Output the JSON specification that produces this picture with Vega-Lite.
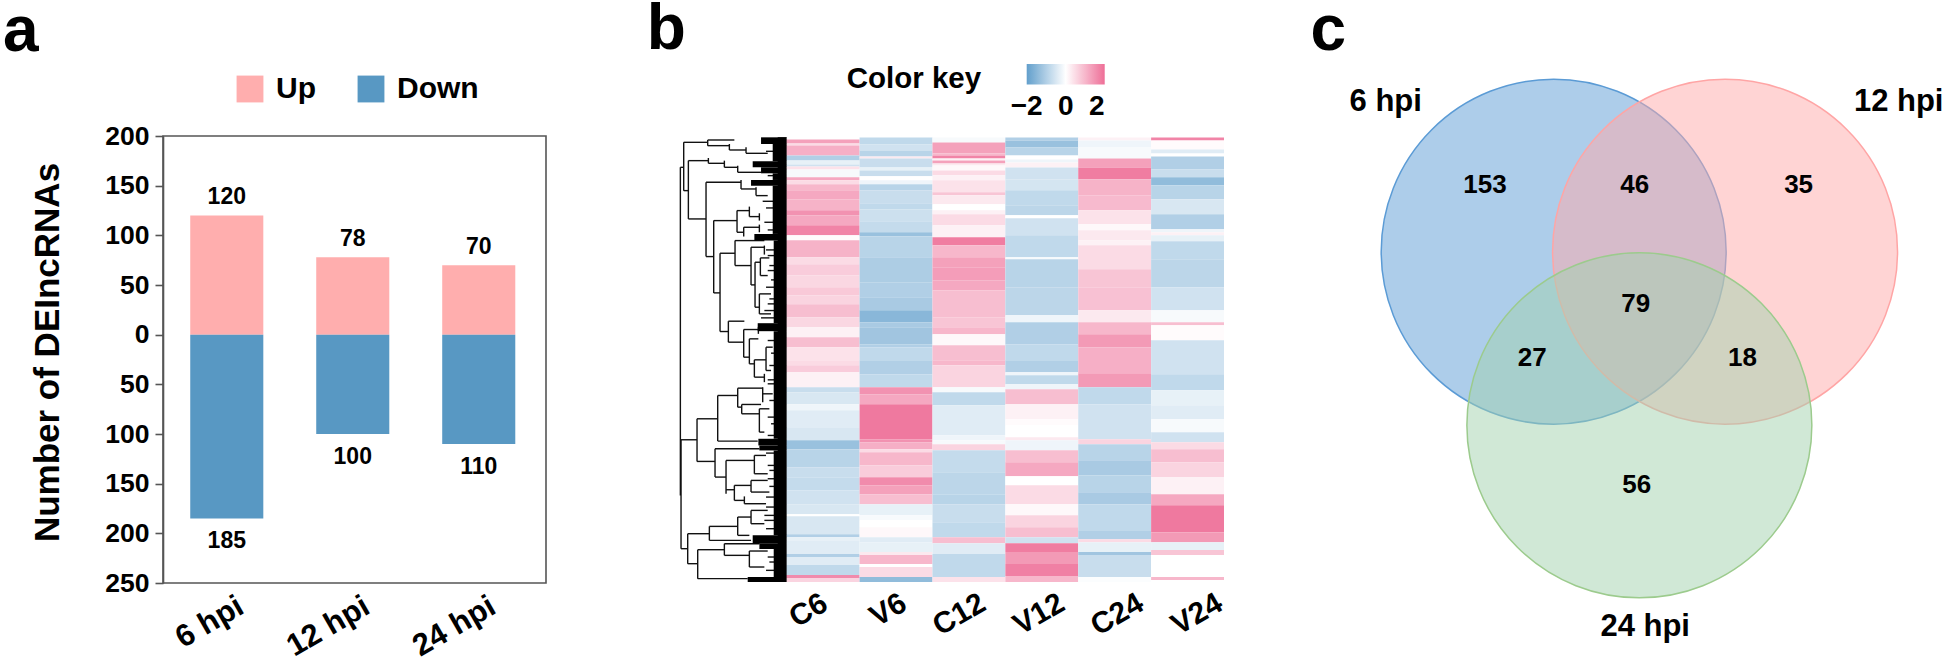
{
"$schema":"https://vega.github.io/schema/vega-lite/v6.json",
"background":"white",
"padding":{"left":2,"top":-3,"right":0,"bottom":0},
"bounds":"flush",
"spacing":131.7,
"config":{"view":{"stroke":null},"font":"Liberation Sans","text":{"font":"Liberation Sans"},"title":{"font":"Liberation Sans","fontWeight":"bold","fontSize":64,"anchor":"start","frame":"group","color":"black","baseline":"alphabetic"}},
"datasets":{
"bars":[{"t":"6 hpi","dir":"Up","n":120,"lab":120},{"t":"12 hpi","dir":"Up","n":78,"lab":78},{"t":"24 hpi","dir":"Up","n":70,"lab":70},{"t":"6 hpi","dir":"Down","n":-185,"lab":185},{"t":"12 hpi","dir":"Down","n":-100,"lab":100},{"t":"24 hpi","dir":"Down","n":-110,"lab":110}],
"tree":[
{"x1":28,"y1":110,"x2":28,"y2":1095},{"x1":28,"y1":110,"x2":38,"y2":110},{"x1":38,"y1":35,"x2":38,"y2":180},{"x1":38,"y1":35,"x2":110,"y2":35},{"x1":38,"y1":180,"x2":52,"y2":180},
{"x1":110,"y1":28,"x2":110,"y2":45},{"x1":110,"y1":28,"x2":190,"y2":28},{"x1":110,"y1":45,"x2":175,"y2":45},{"x1":175,"y1":40,"x2":175,"y2":58},{"x1":175,"y1":58,"x2":225,"y2":58},{"x1":225,"y1":50,"x2":225,"y2":68},{"x1":225,"y1":68,"x2":290,"y2":68},
{"x1":52,"y1":90,"x2":52,"y2":265},{"x1":52,"y1":90,"x2":112,"y2":90},{"x1":52,"y1":265,"x2":105,"y2":265},{"x1":112,"y1":82,"x2":112,"y2":98},{"x1":112,"y1":98,"x2":160,"y2":98},{"x1":160,"y1":90,"x2":160,"y2":110},{"x1":160,"y1":110,"x2":200,"y2":110},{"x1":200,"y1":105,"x2":200,"y2":125},{"x1":200,"y1":125,"x2":270,"y2":125},
{"x1":105,"y1":155,"x2":105,"y2":378},{"x1":105,"y1":155,"x2":210,"y2":155},{"x1":105,"y1":378,"x2":128,"y2":378},{"x1":210,"y1":148,"x2":210,"y2":175},{"x1":210,"y1":175,"x2":255,"y2":175},{"x1":255,"y1":170,"x2":255,"y2":195},{"x1":255,"y1":195,"x2":290,"y2":195},
{"x1":128,"y1":270,"x2":128,"y2":487},{"x1":128,"y1":270,"x2":198,"y2":270},{"x1":128,"y1":487,"x2":147,"y2":487},{"x1":198,"y1":240,"x2":198,"y2":305},{"x1":198,"y1":240,"x2":235,"y2":240},{"x1":198,"y1":305,"x2":218,"y2":305},{"x1":235,"y1":228,"x2":235,"y2":258},{"x1":235,"y1":258,"x2":265,"y2":258},{"x1":218,"y1":290,"x2":218,"y2":318},{"x1":218,"y1":290,"x2":265,"y2":290},{"x1":265,"y1":248,"x2":265,"y2":270},{"x1":265,"y1":282,"x2":265,"y2":305},
{"x1":147,"y1":368,"x2":147,"y2":603},{"x1":147,"y1":368,"x2":192,"y2":368},{"x1":147,"y1":603,"x2":172,"y2":603},{"x1":192,"y1":330,"x2":192,"y2":405},{"x1":192,"y1":330,"x2":280,"y2":330},{"x1":192,"y1":405,"x2":240,"y2":405},{"x1":240,"y1":350,"x2":240,"y2":463},{"x1":240,"y1":350,"x2":280,"y2":350},{"x1":240,"y1":463,"x2":252,"y2":463},{"x1":252,"y1":395,"x2":252,"y2":530},{"x1":252,"y1":395,"x2":268,"y2":395},{"x1":252,"y1":530,"x2":265,"y2":530},{"x1":268,"y1":382,"x2":268,"y2":435},{"x1":268,"y1":382,"x2":295,"y2":382},{"x1":268,"y1":435,"x2":290,"y2":435},{"x1":265,"y1":490,"x2":265,"y2":550},{"x1":265,"y1":490,"x2":300,"y2":490},{"x1":265,"y1":550,"x2":300,"y2":550},{"x1":280,"y1":345,"x2":280,"y2":372},
{"x1":172,"y1":572,"x2":172,"y2":635},{"x1":172,"y1":572,"x2":220,"y2":572},{"x1":172,"y1":635,"x2":218,"y2":635},{"x1":218,"y1":597,"x2":218,"y2":680},{"x1":218,"y1":597,"x2":262,"y2":597},{"x1":218,"y1":680,"x2":235,"y2":680},{"x1":235,"y1":625,"x2":235,"y2":700},{"x1":235,"y1":625,"x2":262,"y2":625},{"x1":235,"y1":700,"x2":250,"y2":700},{"x1":250,"y1":688,"x2":250,"y2":740},{"x1":250,"y1":688,"x2":285,"y2":688},{"x1":250,"y1":740,"x2":280,"y2":740},{"x1":285,"y1":650,"x2":285,"y2":720},{"x1":285,"y1":650,"x2":305,"y2":650},{"x1":285,"y1":720,"x2":300,"y2":720},{"x1":280,"y1":730,"x2":280,"y2":755},{"x1":262,"y1":590,"x2":262,"y2":610},
{"x1":30,"y1":928,"x2":78,"y2":928},{"x1":78,"y1":865,"x2":78,"y2":993},{"x1":78,"y1":865,"x2":140,"y2":865},{"x1":78,"y1":993,"x2":132,"y2":993},{"x1":140,"y1":795,"x2":140,"y2":932},{"x1":140,"y1":795,"x2":200,"y2":795},{"x1":140,"y1":932,"x2":260,"y2":932},{"x1":200,"y1":773,"x2":200,"y2":830},{"x1":200,"y1":773,"x2":275,"y2":773},{"x1":200,"y1":830,"x2":212,"y2":830},{"x1":212,"y1":822,"x2":212,"y2":850},{"x1":212,"y1":822,"x2":270,"y2":822},{"x1":212,"y1":850,"x2":265,"y2":850},{"x1":265,"y1":835,"x2":265,"y2":905},{"x1":265,"y1":835,"x2":295,"y2":835},{"x1":265,"y1":905,"x2":280,"y2":905},{"x1":275,"y1":770,"x2":275,"y2":815},{"x1":275,"y1":790,"x2":305,"y2":790},
{"x1":132,"y1":955,"x2":132,"y2":1040},{"x1":132,"y1":955,"x2":265,"y2":955},{"x1":132,"y1":1040,"x2":165,"y2":1040},{"x1":165,"y1":990,"x2":165,"y2":1090},{"x1":165,"y1":990,"x2":250,"y2":990},{"x1":165,"y1":1078,"x2":190,"y2":1078},{"x1":190,"y1":1065,"x2":190,"y2":1110},{"x1":190,"y1":1065,"x2":240,"y2":1065},{"x1":190,"y1":1110,"x2":220,"y2":1110},{"x1":250,"y1":975,"x2":250,"y2":1030},{"x1":250,"y1":975,"x2":285,"y2":975},{"x1":250,"y1":1030,"x2":290,"y2":1030},{"x1":240,"y1":1050,"x2":240,"y2":1085},{"x1":240,"y1":1050,"x2":290,"y2":1050},{"x1":240,"y1":1085,"x2":295,"y2":1085},{"x1":220,"y1":1098,"x2":220,"y2":1120},{"x1":220,"y1":1120,"x2":285,"y2":1120},
{"x1":30,"y1":928,"x2":30,"y2":1255},{"x1":30,"y1":1255,"x2":50,"y2":1255},{"x1":50,"y1":1210,"x2":50,"y2":1300},{"x1":50,"y1":1210,"x2":115,"y2":1210},{"x1":50,"y1":1300,"x2":80,"y2":1300},{"x1":115,"y1":1188,"x2":115,"y2":1230},{"x1":115,"y1":1188,"x2":200,"y2":1188},{"x1":115,"y1":1230,"x2":240,"y2":1230},{"x1":200,"y1":1160,"x2":200,"y2":1215},{"x1":200,"y1":1160,"x2":240,"y2":1160},{"x1":200,"y1":1215,"x2":235,"y2":1215},{"x1":240,"y1":1140,"x2":240,"y2":1180},{"x1":240,"y1":1140,"x2":290,"y2":1140},{"x1":240,"y1":1180,"x2":280,"y2":1180},{"x1":80,"y1":1258,"x2":80,"y2":1345},{"x1":80,"y1":1258,"x2":160,"y2":1258},{"x1":80,"y1":1345,"x2":230,"y2":1345},{"x1":160,"y1":1240,"x2":160,"y2":1275},{"x1":160,"y1":1240,"x2":265,"y2":1240},{"x1":160,"y1":1275,"x2":235,"y2":1275},{"x1":235,"y1":1262,"x2":235,"y2":1310},{"x1":235,"y1":1262,"x2":290,"y2":1262},{"x1":235,"y1":1310,"x2":280,"y2":1310},
{"x1":285,"y1":62,"x2":345,"y2":62},{"x1":290,"y1":135,"x2":345,"y2":135},{"x1":275,"y1":212,"x2":345,"y2":212},{"x1":285,"y1":232,"x2":345,"y2":232},{"x1":280,"y1":275,"x2":345,"y2":275},{"x1":290,"y1":298,"x2":345,"y2":298},{"x1":285,"y1":358,"x2":345,"y2":358},{"x1":290,"y1":375,"x2":345,"y2":375},{"x1":295,"y1":405,"x2":345,"y2":405},{"x1":290,"y1":420,"x2":345,"y2":420},{"x1":300,"y1":448,"x2":345,"y2":448},{"x1":285,"y1":470,"x2":345,"y2":470},{"x1":295,"y1":505,"x2":345,"y2":505},{"x1":290,"y1":520,"x2":345,"y2":520},{"x1":280,"y1":540,"x2":345,"y2":540},{"x1":270,"y1":562,"x2":345,"y2":562},{"x1":290,"y1":630,"x2":345,"y2":630},{"x1":300,"y1":668,"x2":345,"y2":668},{"x1":295,"y1":705,"x2":345,"y2":705},{"x1":290,"y1":748,"x2":345,"y2":748},{"x1":290,"y1":760,"x2":345,"y2":760},{"x1":295,"y1":810,"x2":345,"y2":810},{"x1":290,"y1":860,"x2":345,"y2":860},{"x1":300,"y1":880,"x2":345,"y2":880},{"x1":290,"y1":915,"x2":345,"y2":915},{"x1":285,"y1":968,"x2":345,"y2":968},{"x1":290,"y1":1005,"x2":345,"y2":1005},{"x1":295,"y1":1020,"x2":345,"y2":1020},{"x1":290,"y1":1045,"x2":345,"y2":1045},{"x1":295,"y1":1068,"x2":345,"y2":1068},{"x1":285,"y1":1100,"x2":345,"y2":1100},{"x1":285,"y1":1130,"x2":345,"y2":1130},{"x1":280,"y1":1155,"x2":345,"y2":1155},{"x1":280,"y1":1170,"x2":345,"y2":1170},{"x1":285,"y1":1195,"x2":345,"y2":1195},{"x1":290,"y1":1280,"x2":345,"y2":1280},{"x1":295,"y1":1295,"x2":345,"y2":1295},{"x1":285,"y1":1320,"x2":345,"y2":1320}
],
"blocks":[
{"x1":320,"y1":20,"x2":347,"y2":1355},{"x1":270,"y1":20,"x2":347,"y2":40},{"x1":245,"y1":92,"x2":347,"y2":110},{"x1":270,"y1":110,"x2":347,"y2":128},{"x1":240,"y1":148,"x2":347,"y2":165},{"x1":250,"y1":310,"x2":347,"y2":330},{"x1":260,"y1":578,"x2":347,"y2":602},{"x1":262,"y1":925,"x2":347,"y2":945},{"x1":265,"y1":945,"x2":347,"y2":960},{"x1":245,"y1":1215,"x2":347,"y2":1240},{"x1":265,"y1":1240,"x2":347,"y2":1256},{"x1":230,"y1":1340,"x2":347,"y2":1355},{"x1":305,"y1":40,"x2":347,"y2":92},{"x1":305,"y1":128,"x2":347,"y2":148},{"x1":305,"y1":165,"x2":347,"y2":310},{"x1":308,"y1":330,"x2":347,"y2":578},{"x1":308,"y1":602,"x2":347,"y2":925},{"x1":308,"y1":960,"x2":347,"y2":1215},{"x1":308,"y1":1256,"x2":347,"y2":1340}
],
"heat":[
{"s":"C6","a":0,"b":2,"v":0},{"s":"C6","a":2,"b":6,"v":1.3},{"s":"C6","a":6,"b":8,"v":0.5},{"s":"C6","a":8,"b":18,"v":1.1},{"s":"C6","a":18,"b":23,"v":-1},{"s":"C6","a":23,"b":27,"v":-0.3},{"s":"C6","a":27,"b":29,"v":-0.6},{"s":"C6","a":29,"b":32,"v":0.4},{"s":"C6","a":32,"b":40,"v":-0.1},{"s":"C6","a":40,"b":43,"v":1.2},{"s":"C6","a":43,"b":47,"v":0.5},{"s":"C6","a":47,"b":53,"v":1},{"s":"C6","a":53,"b":62,"v":1.2},{"s":"C6","a":62,"b":73,"v":1.05},{"s":"C6","a":73,"b":78,"v":1.5},{"s":"C6","a":78,"b":88,"v":1.2},{"s":"C6","a":88,"b":98,"v":1.7},{"s":"C6","a":98,"b":103,"v":0.05},{"s":"C6","a":103,"b":120,"v":1.05},{"s":"C6","a":120,"b":127,"v":0.5},{"s":"C6","a":127,"b":138,"v":0.7},{"s":"C6","a":138,"b":150,"v":0.55},{"s":"C6","a":150,"b":158,"v":0.75},{"s":"C6","a":158,"b":167,"v":0.6},{"s":"C6","a":167,"b":180,"v":0.9},{"s":"C6","a":180,"b":190,"v":0.55},{"s":"C6","a":190,"b":200,"v":0.2},{"s":"C6","a":200,"b":210,"v":0.9},{"s":"C6","a":210,"b":223,"v":0.4},{"s":"C6","a":223,"b":228,"v":0.5},{"s":"C6","a":228,"b":235,"v":0.7},{"s":"C6","a":235,"b":250,"v":0.2},{"s":"C6","a":250,"b":255,"v":-0.7},{"s":"C6","a":255,"b":267,"v":-0.5},{"s":"C6","a":267,"b":273,"v":-0.2},{"s":"C6","a":273,"b":290,"v":-0.4},{"s":"C6","a":290,"b":303,"v":-0.5},{"s":"C6","a":303,"b":312,"v":-1.3},{"s":"C6","a":312,"b":330,"v":-0.9},{"s":"C6","a":330,"b":340,"v":-0.7},{"s":"C6","a":340,"b":353,"v":-0.75},{"s":"C6","a":353,"b":367,"v":-0.6},{"s":"C6","a":367,"b":377,"v":-0.5},{"s":"C6","a":377,"b":379,"v":0},{"s":"C6","a":379,"b":397,"v":-0.5},{"s":"C6","a":397,"b":400,"v":-1},{"s":"C6","a":400,"b":403,"v":-0.3},{"s":"C6","a":403,"b":417,"v":-0.4},{"s":"C6","a":417,"b":420,"v":-1},{"s":"C6","a":420,"b":428,"v":-0.4},{"s":"C6","a":428,"b":438,"v":-0.8},{"s":"C6","a":438,"b":441,"v":1.6},{"s":"C6","a":441,"b":445,"v":0.6},
{"s":"V6","a":0,"b":7,"v":-0.8},{"s":"V6","a":7,"b":13,"v":-0.6},{"s":"V6","a":13,"b":19,"v":-0.9},{"s":"V6","a":19,"b":21,"v":0.3},{"s":"V6","a":21,"b":30,"v":-0.7},{"s":"V6","a":30,"b":33,"v":-0.3},{"s":"V6","a":33,"b":39,"v":-0.7},{"s":"V6","a":39,"b":43,"v":0},{"s":"V6","a":43,"b":47,"v":-0.2},{"s":"V6","a":47,"b":53,"v":-0.9},{"s":"V6","a":53,"b":66,"v":-0.7},{"s":"V6","a":66,"b":72,"v":-0.8},{"s":"V6","a":72,"b":84,"v":-0.65},{"s":"V6","a":84,"b":95,"v":-0.75},{"s":"V6","a":95,"b":99,"v":-1.3},{"s":"V6","a":99,"b":120,"v":-0.9},{"s":"V6","a":120,"b":145,"v":-1.05},{"s":"V6","a":145,"b":160,"v":-1},{"s":"V6","a":160,"b":173,"v":-1.1},{"s":"V6","a":173,"b":185,"v":-1.5},{"s":"V6","a":185,"b":190,"v":-1.1},{"s":"V6","a":190,"b":207,"v":-1.2},{"s":"V6","a":207,"b":210,"v":-1},{"s":"V6","a":210,"b":223,"v":-0.8},{"s":"V6","a":223,"b":237,"v":-1},{"s":"V6","a":237,"b":250,"v":-0.8},{"s":"V6","a":250,"b":257,"v":1.5},{"s":"V6","a":257,"b":267,"v":1.2},{"s":"V6","a":267,"b":302,"v":1.85},{"s":"V6","a":302,"b":305,"v":1.5},{"s":"V6","a":305,"b":312,"v":1.1},{"s":"V6","a":312,"b":315,"v":0.5},{"s":"V6","a":315,"b":328,"v":1},{"s":"V6","a":328,"b":340,"v":0.7},{"s":"V6","a":340,"b":348,"v":1.6},{"s":"V6","a":348,"b":357,"v":1.3},{"s":"V6","a":357,"b":367,"v":0.9},{"s":"V6","a":367,"b":378,"v":-0.3},{"s":"V6","a":378,"b":383,"v":-0.1},{"s":"V6","a":383,"b":390,"v":0},{"s":"V6","a":390,"b":400,"v":0.1},{"s":"V6","a":400,"b":405,"v":-0.4},{"s":"V6","a":405,"b":415,"v":-0.3},{"s":"V6","a":415,"b":418,"v":0.3},{"s":"V6","a":418,"b":427,"v":1},{"s":"V6","a":427,"b":430,"v":0},{"s":"V6","a":430,"b":440,"v":0.5},{"s":"V6","a":440,"b":445,"v":-1.4},
{"s":"C12","a":0,"b":5,"v":-0.1},{"s":"C12","a":5,"b":16,"v":1.3},{"s":"C12","a":16,"b":18,"v":1},{"s":"C12","a":18,"b":21,"v":1.7},{"s":"C12","a":21,"b":23,"v":0.2},{"s":"C12","a":23,"b":26,"v":1.3},{"s":"C12","a":26,"b":28,"v":0.3},{"s":"C12","a":28,"b":33,"v":0.1},{"s":"C12","a":33,"b":38,"v":0.5},{"s":"C12","a":38,"b":43,"v":0.2},{"s":"C12","a":43,"b":55,"v":0.4},{"s":"C12","a":55,"b":58,"v":0.8},{"s":"C12","a":58,"b":67,"v":0.3},{"s":"C12","a":67,"b":73,"v":0},{"s":"C12","a":73,"b":77,"v":0.2},{"s":"C12","a":77,"b":88,"v":0.5},{"s":"C12","a":88,"b":100,"v":0.2},{"s":"C12","a":100,"b":108,"v":1.8},{"s":"C12","a":108,"b":120,"v":1},{"s":"C12","a":120,"b":130,"v":1.3},{"s":"C12","a":130,"b":143,"v":1.35},{"s":"C12","a":143,"b":153,"v":1.2},{"s":"C12","a":153,"b":180,"v":0.9},{"s":"C12","a":180,"b":190,"v":0.8},{"s":"C12","a":190,"b":197,"v":1},{"s":"C12","a":197,"b":208,"v":0.1},{"s":"C12","a":208,"b":223,"v":0.9},{"s":"C12","a":223,"b":228,"v":1},{"s":"C12","a":228,"b":250,"v":0.6},{"s":"C12","a":250,"b":255,"v":-0.1},{"s":"C12","a":255,"b":268,"v":-0.8},{"s":"C12","a":268,"b":298,"v":-0.4},{"s":"C12","a":298,"b":303,"v":-0.2},{"s":"C12","a":303,"b":307,"v":-0.1},{"s":"C12","a":307,"b":313,"v":0.6},{"s":"C12","a":313,"b":335,"v":-0.75},{"s":"C12","a":335,"b":357,"v":-0.85},{"s":"C12","a":357,"b":367,"v":-0.9},{"s":"C12","a":367,"b":385,"v":-0.7},{"s":"C12","a":385,"b":400,"v":-0.8},{"s":"C12","a":400,"b":406,"v":0.9},{"s":"C12","a":406,"b":417,"v":-0.4},{"s":"C12","a":417,"b":440,"v":-0.8},{"s":"C12","a":440,"b":445,"v":0.4},
{"s":"V12","a":0,"b":3,"v":-1},{"s":"V12","a":3,"b":10,"v":-1.3},{"s":"V12","a":10,"b":18,"v":-0.9},{"s":"V12","a":18,"b":22,"v":0},{"s":"V12","a":22,"b":25,"v":-0.2},{"s":"V12","a":25,"b":30,"v":0.2},{"s":"V12","a":30,"b":42,"v":-0.6},{"s":"V12","a":42,"b":53,"v":-0.55},{"s":"V12","a":53,"b":68,"v":-0.8},{"s":"V12","a":68,"b":78,"v":-0.85},{"s":"V12","a":78,"b":81,"v":0},{"s":"V12","a":81,"b":98,"v":-0.6},{"s":"V12","a":98,"b":120,"v":-0.8},{"s":"V12","a":120,"b":122,"v":-0.1},{"s":"V12","a":122,"b":150,"v":-0.9},{"s":"V12","a":150,"b":178,"v":-0.85},{"s":"V12","a":178,"b":185,"v":-0.2},{"s":"V12","a":185,"b":207,"v":-1},{"s":"V12","a":207,"b":223,"v":-0.8},{"s":"V12","a":223,"b":235,"v":-1},{"s":"V12","a":235,"b":238,"v":-0.2},{"s":"V12","a":238,"b":247,"v":-0.8},{"s":"V12","a":247,"b":252,"v":-0.2},{"s":"V12","a":252,"b":267,"v":0.9},{"s":"V12","a":267,"b":282,"v":0.2},{"s":"V12","a":282,"b":288,"v":0.05},{"s":"V12","a":288,"b":300,"v":0},{"s":"V12","a":300,"b":303,"v":0.3},{"s":"V12","a":303,"b":313,"v":-0.2},{"s":"V12","a":313,"b":325,"v":0.9},{"s":"V12","a":325,"b":339,"v":1.2},{"s":"V12","a":339,"b":348,"v":0},{"s":"V12","a":348,"b":367,"v":0.5},{"s":"V12","a":367,"b":378,"v":0.1},{"s":"V12","a":378,"b":390,"v":0.6},{"s":"V12","a":390,"b":400,"v":0.9},{"s":"V12","a":400,"b":406,"v":-0.6},{"s":"V12","a":406,"b":415,"v":1.8},{"s":"V12","a":415,"b":427,"v":1.4},{"s":"V12","a":427,"b":439,"v":1.75},{"s":"V12","a":439,"b":445,"v":1},
{"s":"C24","a":0,"b":3,"v":0.2},{"s":"C24","a":3,"b":10,"v":-0.2},{"s":"C24","a":10,"b":21,"v":-0.1},{"s":"C24","a":21,"b":30,"v":1.3},{"s":"C24","a":30,"b":42,"v":1.8},{"s":"C24","a":42,"b":58,"v":1.05},{"s":"C24","a":58,"b":73,"v":0.95},{"s":"C24","a":73,"b":87,"v":0.4},{"s":"C24","a":87,"b":93,"v":0.1},{"s":"C24","a":93,"b":103,"v":0.3},{"s":"C24","a":103,"b":108,"v":0.2},{"s":"C24","a":108,"b":132,"v":0.5},{"s":"C24","a":132,"b":150,"v":0.8},{"s":"C24","a":150,"b":173,"v":0.85},{"s":"C24","a":173,"b":185,"v":0.3},{"s":"C24","a":185,"b":197,"v":1},{"s":"C24","a":197,"b":210,"v":1.4},{"s":"C24","a":210,"b":236,"v":1.1},{"s":"C24","a":236,"b":250,"v":1.4},{"s":"C24","a":250,"b":267,"v":-0.8},{"s":"C24","a":267,"b":302,"v":-0.6},{"s":"C24","a":302,"b":307,"v":0.6},{"s":"C24","a":307,"b":323,"v":-0.9},{"s":"C24","a":323,"b":338,"v":-1.1},{"s":"C24","a":338,"b":355,"v":-0.9},{"s":"C24","a":355,"b":367,"v":-1.1},{"s":"C24","a":367,"b":393,"v":-0.8},{"s":"C24","a":393,"b":402,"v":-1},{"s":"C24","a":402,"b":405,"v":0.5},{"s":"C24","a":405,"b":415,"v":-0.3},{"s":"C24","a":415,"b":418,"v":-1.2},{"s":"C24","a":418,"b":440,"v":-0.7},{"s":"C24","a":440,"b":445,"v":-0.05},
{"s":"V24","a":0,"b":3,"v":1.7},{"s":"V24","a":3,"b":12,"v":0.05},{"s":"V24","a":12,"b":16,"v":-0.4},{"s":"V24","a":16,"b":19,"v":0},{"s":"V24","a":19,"b":32,"v":-1},{"s":"V24","a":32,"b":40,"v":-0.7},{"s":"V24","a":40,"b":48,"v":-1.4},{"s":"V24","a":48,"b":62,"v":-0.9},{"s":"V24","a":62,"b":77,"v":-0.5},{"s":"V24","a":77,"b":92,"v":-1},{"s":"V24","a":92,"b":95,"v":-0.2},{"s":"V24","a":95,"b":98,"v":0.2},{"s":"V24","a":98,"b":104,"v":-0.3},{"s":"V24","a":104,"b":122,"v":-0.8},{"s":"V24","a":122,"b":150,"v":-0.85},{"s":"V24","a":150,"b":173,"v":-0.6},{"s":"V24","a":173,"b":185,"v":-0.1},{"s":"V24","a":185,"b":188,"v":0.9},{"s":"V24","a":188,"b":203,"v":0.05},{"s":"V24","a":203,"b":237,"v":-0.6},{"s":"V24","a":237,"b":253,"v":-0.8},{"s":"V24","a":253,"b":268,"v":-0.3},{"s":"V24","a":268,"b":282,"v":-0.4},{"s":"V24","a":282,"b":295,"v":-0.1},{"s":"V24","a":295,"b":305,"v":-0.6},{"s":"V24","a":305,"b":312,"v":0.5},{"s":"V24","a":312,"b":325,"v":0.9},{"s":"V24","a":325,"b":340,"v":0.6},{"s":"V24","a":340,"b":357,"v":0.2},{"s":"V24","a":357,"b":368,"v":1.2},{"s":"V24","a":368,"b":395,"v":1.85},{"s":"V24","a":395,"b":405,"v":1.4},{"s":"V24","a":405,"b":413,"v":-0.3},{"s":"V24","a":413,"b":418,"v":0.8},{"s":"V24","a":418,"b":440,"v":0},{"s":"V24","a":440,"b":443,"v":1},{"s":"V24","a":443,"b":445,"v":0}
],
"samples":[{"s":"C6"},{"s":"V6"},{"s":"C12"},{"s":"V12"},{"s":"C24"},{"s":"V24"}],
"sets":[{"set":"6 hpi","cx":-50,"cy":0},{"set":"12 hpi","cx":50,"cy":0},{"set":"24 hpi","cx":0,"cy":-101.3}],
"vennNums":[{"lab":"153","cx":-90.1,"cy":39.1},{"lab":"46","cx":-2.7,"cy":39.1},{"lab":"35","cx":92.9,"cy":39.1},{"lab":"79","cx":-2.1,"cy":-30.7},{"lab":"27","cx":-62.5,"cy":-62},{"lab":"18","cx":60.1,"cy":-62},{"lab":"56","cx":-1.6,"cy":-135.9}],
"vennNames":[{"lab":"6 hpi","cx":-148,"cy":87.2},{"lab":"12 hpi","cx":151.3,"cy":87.2},{"lab":"24 hpi","cx":3.4,"cy":-219.1}]
},
"hconcat":[
{"width":383,"height":447,"view":{"stroke":"#555555","strokeWidth":1.6},
 "title":{"text":"a","dx":-160,"offset":10},
 "data":{"name":"bars"},
 "encoding":{"x":{"field":"t","type":"nominal","sort":["6 hpi","12 hpi","24 hpi"],"scale":{"paddingInner":0.42,"paddingOuter":0.23,"align":0.47},"axis":{"title":null,"ticks":false,"domain":false,"labelAngle":-30,"labelAlign":"right","labelBaseline":"top","labelFont":"Liberation Sans","labelFontWeight":"bold","labelFontSize":31,"labelColor":"black","labelOffset":7,"labelPadding":8}}},
 "layer":[
  {"mark":{"type":"bar"},"encoding":{"y":{"field":"n","type":"quantitative","scale":{"domain":[-250,200],"nice":false},"axis":{"title":"Number of DEIncRNAs","titleFont":"Liberation Sans","titleFontWeight":"bold","titleFontSize":35,"titleColor":"black","titleX":-105,"titleY":216,"titleBaseline":"alphabetic","values":[-250,-200,-150,-100,-50,0,50,100,150,200],"labelExpr":"abs(datum.value)","grid":false,"domainColor":"#555555","domainWidth":1.6,"tickColor":"#555555","tickSize":8,"tickWidth":1.6,"labelFont":"Liberation Sans","labelFontWeight":"bold","labelFontSize":26.5,"labelColor":"black","labelPadding":6}},
   "color":{"field":"dir","type":"nominal","scale":{"domain":["Up","Down"],"range":["#FFAEAE","#5898C3"]},"legend":{"title":null,"orient":"none","legendX":72,"legendY":-62,"direction":"horizontal","columns":2,"symbolType":"square","symbolSize":720,"symbolStrokeWidth":0,"symbolOpacity":1,"labelFont":"Liberation Sans","labelFontWeight":"bold","labelFontSize":30,"labelColor":"black","labelOffset":11,"columnPadding":40,"padding":0}}}},
  {"mark":{"type":"rule","color":"#D6D6D6","strokeWidth":2},"encoding":{"y":{"datum":0}}},
  {"transform":[{"filter":"datum.n>0"}],"mark":{"type":"text","font":"Liberation Sans","fontWeight":"bold","fontSize":23,"dy":-18,"color":"black"},"encoding":{"y":{"field":"n","type":"quantitative"},"text":{"field":"lab"}}},
  {"transform":[{"filter":"datum.n<0"}],"mark":{"type":"text","font":"Liberation Sans","fontWeight":"bold","fontSize":23,"dy":23,"color":"black"},"encoding":{"y":{"field":"n","type":"quantitative"},"text":{"field":"lab"}}}
 ]},
{"width":546.3,"height":447,"title":{"text":"b","dx":-31,"offset":2.5},
  "layer":[
   {"data":{"name":"tree"},"mark":{"type":"rule","color":"#111111","strokeWidth":1.4},"encoding":{"x":{"field":"x1","type":"quantitative","scale":{"domain":[20,347],"range":[0,109],"nice":false,"zero":false},"axis":null},"x2":{"field":"x2"},"y":{"field":"y1","type":"quantitative","scale":{"domain":[1358,16],"nice":false,"zero":false},"axis":null},"y2":{"field":"y2"}}},
   {"data":{"name":"blocks"},"mark":{"type":"rect","color":"black"},"encoding":{"x":{"field":"x1","type":"quantitative","scale":{"domain":[20,347],"range":[0,109],"nice":false,"zero":false},"axis":null},"x2":{"field":"x2"},"y":{"field":"y1","type":"quantitative","scale":{"domain":[1358,16],"nice":false,"zero":false},"axis":null},"y2":{"field":"y2"}}},
   {"data":{"name":"heat"},"mark":{"type":"rect"},"encoding":{"x":{"field":"s","type":"nominal","sort":["C6","V6","C12","V12","C24","V24"],"scale":{"padding":0,"range":[109,546.3]},"axis":null},"y":{"field":"a","type":"quantitative","scale":{"domain":[445.9,-1.4],"nice":false,"zero":false},"axis":null},"y2":{"field":"b"},
    "color":{"field":"v","type":"quantitative","scale":{"domain":[-2,0,2],"range":["#629FCC","#FFFFFF","#EE6E97"],"interpolate":"rgb"},"legend":{"title":"Color key","orient":"none","legendX":169,"legendY":-72,"direction":"horizontal","titleOrient":"left","titleFont":"Liberation Sans","titleFontWeight":"bold","titleFontSize":29.5,"titleColor":"black","titlePadding":45,"values":[-2,0,2],"gradientLength":78,"gradientThickness":20.5,"gradientStrokeWidth":0,"labelFont":"Liberation Sans","labelFontWeight":"bold","labelFontSize":28,"labelColor":"black","labelOffset":8,"labelOverlap":false,"padding":0,"encoding":{"labels":{"align":{"value":{"expr":"datum.value<0?'center':datum.value>0?'right':'center'"}}},"title":{"dy":{"value":5}}}}}}},
   {"data":{"name":"samples"},"mark":{"type":"text","font":"Liberation Sans","fontWeight":"bold","fontSize":30,"angle":330,"align":"right","baseline":"top","color":"black"},"encoding":{"x":{"field":"s","type":"nominal","sort":["C6","V6","C12","V12","C24","V24"],"scale":{"type":"point","padding":0,"range":[140,535]},"axis":null},"y":{"value":452},"text":{"field":"s"}}}
  ],"resolve":{"scale":{"x":"independent","y":"independent"},"axis":{"x":"independent","y":"independent"}}},
{"width":591.3,"height":520,"title":{"text":"c","dx":-46,"offset":13},
 "layer":[
  {"data":{"name":"sets"},"mark":{"type":"point","filled":true,"shape":"circle","size":119000,"opacity":1,"strokeOpacity":1,"strokeWidth":1.5},"encoding":{"x":{"field":"cx","type":"quantitative","scale":{"domain":[-165.1,179.9],"nice":false,"zero":false},"axis":null},"y":{"field":"cy","type":"quantitative","scale":{"domain":[-235.9,67.5],"nice":false,"zero":false},"axis":null},"fill":{"field":"set","type":"nominal","scale":{"domain":["6 hpi","12 hpi","24 hpi"],"range":["#5B9BD5","#FFAAAA","#A2D2AD"]},"legend":null},"fillOpacity":{"field":"set","type":"nominal","scale":{"domain":["6 hpi","12 hpi","24 hpi"],"range":[0.5,0.5,0.6]},"legend":null},"stroke":{"field":"set","type":"nominal","scale":{"domain":["6 hpi","12 hpi","24 hpi"],"range":["#5B9BD5","#FFA5A5","#9CCB8D"]},"legend":null}}},
  {"data":{"name":"vennNums"},"mark":{"type":"text","font":"Liberation Sans","fontWeight":"bold","fontSize":26,"color":"black"},"encoding":{"x":{"field":"cx","type":"quantitative"},"y":{"field":"cy","type":"quantitative"},"text":{"field":"lab"}}},
  {"data":{"name":"vennNames"},"mark":{"type":"text","font":"Liberation Sans","fontWeight":"bold","fontSize":31,"color":"black"},"encoding":{"x":{"field":"cx","type":"quantitative"},"y":{"field":"cy","type":"quantitative"},"text":{"field":"lab"}}}
 ]}
],
"resolve":{"scale":{"color":"independent"}}
}
